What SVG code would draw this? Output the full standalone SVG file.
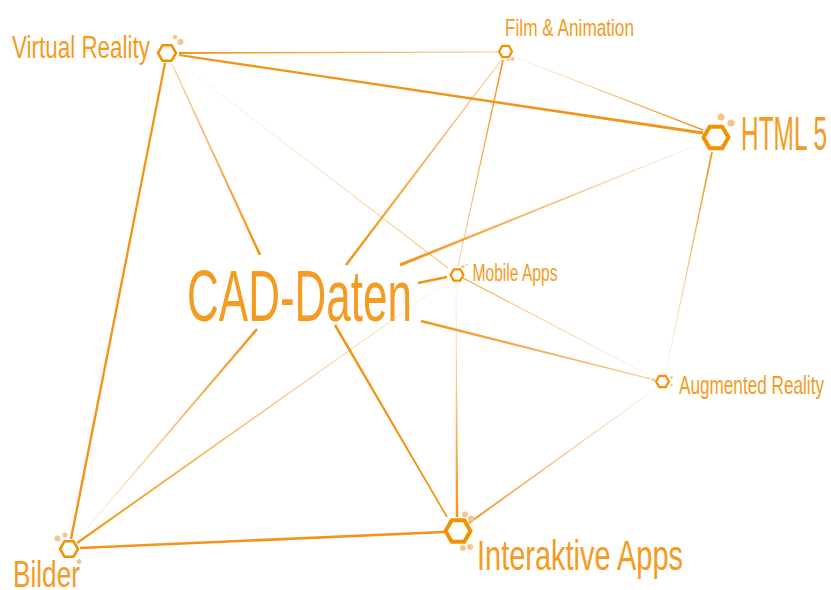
<svg xmlns="http://www.w3.org/2000/svg" xmlns:xlink="http://www.w3.org/1999/xlink" width="831" height="590" viewBox="0 0 831 590">
  <style>
    .lbl { font-family: "Liberation Sans", "DejaVu Sans", sans-serif; fill: #f49b22; }
    .hex { fill: #ffffff; stroke: #f39200; stroke-linejoin: miter; }
    .dot { fill: #f9c38a; }
    .solid { fill: #f29418; }
  </style>
  <defs>
    <!-- hexagons, flat top -->
    <polygon id="hexL" class="hex" stroke-width="4" points="12.5,0 6.25,10.83 -6.25,10.83 -12.5,0 -6.25,-10.83 6.25,-10.83"/>
    <polygon id="hexM" class="hex" stroke-width="2.6" points="9,0 4.5,7.79 -4.5,7.79 -9,0 -4.5,-7.79 4.5,-7.79"/>
    <polygon id="hexS" class="hex" stroke-width="2.2" points="6.5,0 3.25,5.63 -3.25,5.63 -6.5,0 -3.25,-5.63 3.25,-5.63"/>
    <!-- fading gradients: faint at the named corner, full at the opposite one -->
    <linearGradient id="gTL" x1="0" y1="0" x2="1" y2="1"><stop offset="0" stop-color="#f29418" stop-opacity="0.15"/><stop offset="1" stop-color="#f29418"/></linearGradient>
    <linearGradient id="gTR" x1="1" y1="0" x2="0" y2="1"><stop offset="0" stop-color="#f29418" stop-opacity="0.15"/><stop offset="1" stop-color="#f29418"/></linearGradient>
    <linearGradient id="gBL" x1="0" y1="1" x2="1" y2="0"><stop offset="0" stop-color="#f29418" stop-opacity="0.15"/><stop offset="1" stop-color="#f29418"/></linearGradient>
    <linearGradient id="gBR" x1="1" y1="1" x2="0" y2="0"><stop offset="0" stop-color="#f29418" stop-opacity="0.15"/><stop offset="1" stop-color="#f29418"/></linearGradient>
    <linearGradient id="gT" x1="0" y1="0" x2="0" y2="1"><stop offset="0" stop-color="#f29418" stop-opacity="0.15"/><stop offset="1" stop-color="#f29418"/></linearGradient>
    <linearGradient id="sTL" x1="0" y1="0" x2="1" y2="1"><stop offset="0" stop-color="#f29418" stop-opacity="0.5"/><stop offset="1" stop-color="#f29418"/></linearGradient>
    <linearGradient id="sTR" x1="1" y1="0" x2="0" y2="1"><stop offset="0" stop-color="#f29418" stop-opacity="0.5"/><stop offset="1" stop-color="#f29418"/></linearGradient>
    <linearGradient id="sBL" x1="0" y1="1" x2="1" y2="0"><stop offset="0" stop-color="#f29418" stop-opacity="0.5"/><stop offset="1" stop-color="#f29418"/></linearGradient>
    <linearGradient id="sBR" x1="1" y1="1" x2="0" y2="0"><stop offset="0" stop-color="#f29418" stop-opacity="0.5"/><stop offset="1" stop-color="#f29418"/></linearGradient>
    <linearGradient id="sR" x1="1" y1="0" x2="0" y2="0"><stop offset="0" stop-color="#f29418" stop-opacity="0.5"/><stop offset="1" stop-color="#f29418"/></linearGradient>
  </defs>

  <rect width="831" height="590" fill="#ffffff"/>

  <!-- connectors: tapered strokes, thin and faint at one end -->
  <g id="connectors">
    <polygon fill="url(#sR)" points="498,51.6 179,52.1 179,53.9 498,52.4"/>
    <polygon class="solid" points="179.2,53.9 703.2,131.6 702.8,134.4 178.8,56.1"/>
    <polygon fill="url(#sTL)" points="172.45,63.79 261.18,254.46 258.82,255.54 171.55,64.21"/>
    <polygon fill="url(#gTL)" opacity="0.6" points="176.18,59.76 448.33,267.56 447.67,268.44 175.82,60.24"/>
    <polygon class="solid" points="163.92,62.79 69.82,538.77 72.18,539.23 166.08,63.21"/>
    <polygon fill="url(#gTL)" points="512.09,55.77 703.29,129.25 702.71,130.75 511.91,56.23"/>
    <polygon fill="url(#sTR)" points="501.68,58.76 344.96,264.21 347.04,265.79 502.32,59.24"/>
    <polygon fill="url(#sBL)" points="458.39,266.09 503.78,60.17 502.22,59.83 457.61,265.91"/>
    <polygon fill="url(#gTR)" points="701.89,142.72 399.44,263.61 400.56,266.39 702.11,143.28"/>
    <polygon fill="url(#gBL)" points="665.29,376.06 712.88,152.18 711.12,151.82 664.71,375.94"/>
    <polygon fill="url(#gTR)" points="657.85,386.8 468.42,522.19 469.58,523.81 658.15,387.2"/>
    <polygon fill="url(#gBR)" opacity="0.85" points="656.12,378.78 463.26,277.51 462.74,278.49 655.88,379.22"/>
    <polygon fill="url(#gTR)" points="448.86,279.8 76.37,542.1 77.63,543.9 449.14,280.2"/>
    <polygon fill="url(#gT)" points="455.75,284 455.7,517 458.3,517 456.25,284"/>
    <polygon class="solid" points="446.76,275.82 417.76,281.82 418.24,284.18 447.24,278.18"/>
    <polygon fill="url(#sBR)" points="655.12,379.52 421.34,319.64 420.66,322.36 654.88,380.48"/>
    <polygon class="solid" points="447.69,516.6 336.12,324.34 333.88,325.66 446.31,517.4"/>
    <polygon class="solid" points="443.94,530.7 79.94,546.7 80.06,549.3 444.06,533.3"/>
    <polygon fill="url(#gBL)" points="77.19,540.16 257.99,329.84 256.01,328.16 76.81,539.84"/>
  </g>

  <!-- central topic -->
  <g id="cad-daten">
    <text class="lbl" x="187" y="320.5" font-size="73" textLength="225" lengthAdjust="spacingAndGlyphs">CAD-Daten</text>
  </g>

  <g id="virtual-reality">
    <circle class="dot" cx="175" cy="37" r="2.2"/>
    <circle class="dot" cx="180.5" cy="42" r="3"/>
    <use xlink:href="#hexM" href="#hexM" x="167" y="53"/>
    <text class="lbl" x="12" y="57.5" font-size="31" textLength="138" lengthAdjust="spacingAndGlyphs">Virtual Reality</text>
  </g>

  <g id="film-animation">
    <circle class="dot" cx="508" cy="60" r="1.3"/>
    <circle class="dot" cx="512.5" cy="59" r="2.1"/>
    <use xlink:href="#hexS" href="#hexS" x="505.5" y="51.5"/>
    <text class="lbl" x="505" y="36" font-size="24.5" textLength="129" lengthAdjust="spacingAndGlyphs">Film &amp; Animation</text>
  </g>

  <g id="html5">
    <circle class="dot" cx="721" cy="117" r="3.6"/>
    <circle class="dot" cx="731" cy="123" r="3.6"/>
    <use xlink:href="#hexL" href="#hexL" x="716" y="137.5"/>
    <text class="lbl" x="741" y="149.5" font-size="48" textLength="86" lengthAdjust="spacingAndGlyphs">HTML 5</text>
  </g>

  <g id="mobile-apps">
    <circle class="dot" cx="463" cy="266.5" r="1.8"/>
    <circle class="dot" cx="467" cy="265" r="1"/>
    <use xlink:href="#hexS" href="#hexS" x="457" y="275"/>
    <text class="lbl" x="472.5" y="281" font-size="23" textLength="85" lengthAdjust="spacingAndGlyphs">Mobile Apps</text>
  </g>

  <g id="augmented-reality">
    <circle class="dot" cx="653.5" cy="380" r="1.4"/>
    <circle class="dot" cx="671.5" cy="377.5" r="1.4"/>
    <circle class="dot" cx="671.5" cy="385" r="1.2"/>
    <use xlink:href="#hexS" href="#hexS" x="662.5" y="381.5"/>
    <text class="lbl" x="679" y="393.5" font-size="25" textLength="145" lengthAdjust="spacingAndGlyphs">Augmented Reality</text>
  </g>

  <g id="interaktive-apps">
    <circle class="dot" cx="465" cy="514.5" r="3"/>
    <circle class="dot" cx="471" cy="518.5" r="3"/>
    <circle class="dot" cx="463" cy="548" r="3"/>
    <circle class="dot" cx="470" cy="547" r="3"/>
    <use xlink:href="#hexL" href="#hexL" x="458" y="531"/>
    <text class="lbl" x="477" y="570" font-size="42" textLength="206" lengthAdjust="spacingAndGlyphs">Interaktive Apps</text>
  </g>

  <g id="bilder">
    <circle class="dot" cx="57.5" cy="538.5" r="3"/>
    <circle class="dot" cx="65" cy="535" r="2.5"/>
    <circle class="dot" cx="79" cy="561.5" r="2.5"/>
    <use xlink:href="#hexM" href="#hexM" x="69" y="549"/>
    <text class="lbl" x="13" y="587" font-size="36" textLength="67" lengthAdjust="spacingAndGlyphs">Bilder</text>
  </g>
</svg>
